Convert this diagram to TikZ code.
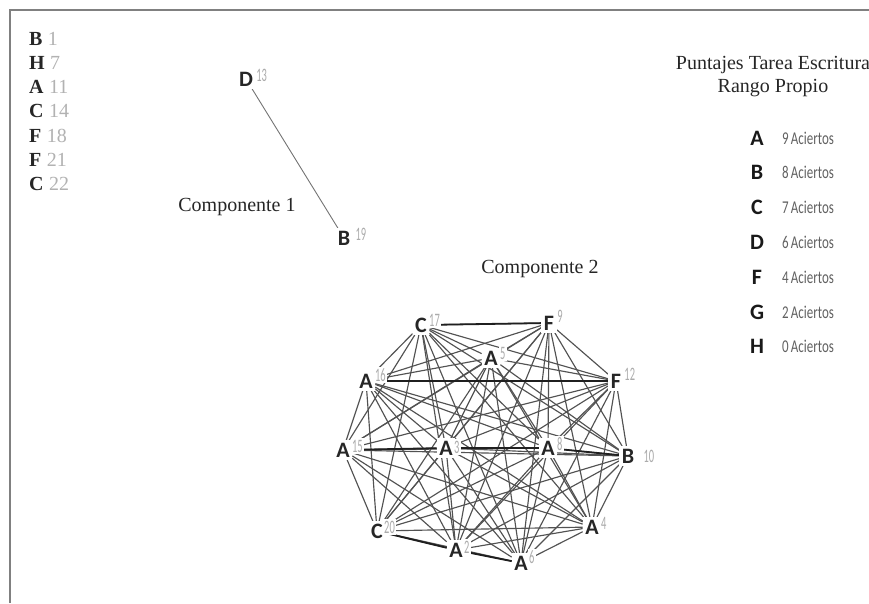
\documentclass[tikz,border=0pt]{standalone}
\usepackage{fontspec}
\setmainfont{Liberation Serif}
\newfontfamily\carl{Carlito}
\usetikzlibrary{backgrounds}
\newcommand\nmb[1]{\scalebox{0.55}[1]{#1}}
\begin{document}
\begin{tikzpicture}[x=1pt,y=1pt,
  vtx/.style={font=\carl\bfseries\fontsize{22}{22}\selectfont, text=black!85, fill=white, inner sep=2.5pt},
  num/.style={font=\carl\fontsize{19}{19}\selectfont, text=black!33, fill=white, inner sep=1.5pt, anchor=west},
  edge/.style={draw=black!68, line width=1.15pt},
  strong/.style={draw=black!88, line width=1.8pt},
  lst/.style={font=\fontsize{20}{20}\selectfont\bfseries, text=black!85, anchor=base west, inner sep=0pt},
  lnum/.style={font=\fontsize{20}{20}\selectfont, text=black!30, anchor=base west, inner sep=0pt},
  ttl/.style={font=\fontsize{20}{20}\selectfont, text=black!85},
  leg/.style={font=\carl\bfseries\fontsize{22}{22}\selectfont, text=black!90},
  legt/.style={font=\carl\fontsize{18}{18}\selectfont, text=black!62, anchor=west, inner sep=0pt},
  frame/.style={draw=black!50, line width=2.5pt}
]
\useasboundingbox (0,0) rectangle (869,-603);
\draw[frame] (10,-603) -- (10,-10) -- (869,-10);

% isolated nodes
\foreach \l/\n [count=\i from 0] in {B/1,H/7,A/11,C/14,F/18,F/21,C/22}{
  \node[lst] (iso\i) at (29,{-45-24.3*\i}) {\l};
  \node[lnum] (isonum\i) at ([xshift=5pt]iso\i.base east) {\n};
}

% component 1
\node[vtx] (n13) at (246,-79) {D};
\node[num] (l13) at ([xshift=-1pt,yshift=4pt]n13.east) {\nmb{13}};
\node[vtx] (n19) at (344,-238) {B};
\node[num] (l19) at ([xshift=1pt,yshift=4pt]n19.east) {\nmb{19}};
\node[ttl] (comp1) at (237,-207) {Componente 1};

% component 2
\node[ttl] (comp2) at (540,-269) {Componente 2};
\node[vtx] (n17) at (421,-325) {C};
\node[vtx] (n9)  at (549,-323) {F};
\node[vtx] (n5)  at (491,-358) {A};
\node[vtx] (n16) at (366,-381) {A};
\node[vtx] (n12) at (616,-381) {F};
\node[vtx] (n15) at (343,-450) {A};
\node[vtx] (n3)  at (446,-448) {A};
\node[vtx] (n8)  at (548,-448) {A};
\node[vtx] (n10) at (628,-456) {B};
\node[vtx] (n20) at (377,-531) {C};
\node[vtx] (n4)  at (592,-527) {A};
\node[vtx] (n2)  at (456,-550) {A};
\node[vtx] (n6)  at (521,-563) {A};
\foreach \n/\dx/\dy in {17/-2/5,9/-1/7,5/-2/5,16/-2/6,12/-1/7,15/-2/4,3/-3/1,8/-2/4,10/5/0,20/-3/4,4/-2/4,2/-3/3,6/-3/6}{
  \node[num] (l\n) at ([xshift=\dx pt,yshift=\dy pt]n\n.east) {\nmb{\n}};
}

\begin{pgfonlayer}{background}
  \draw[draw=black!55, line width=0.9pt] (n13) -- (n19);
  \foreach \a [count=\i] in {n17,n9,n5,n16,n12,n15,n3,n8,n10,n20,n4,n2,n6}{
    \foreach \b [count=\j] in {n17,n9,n5,n16,n12,n15,n3,n8,n10,n20,n4,n2,n6}{
      \ifnum\j>\i \draw[edge] (\a) -- (\b); \fi
    }
  }
  \draw[strong] (n17) -- (n9);
  \draw[strong] (n15) -- (n3);
  \draw[strong] (n3) -- (n8);
  \draw[strong] (n8) -- (n10);
  \draw[strong] (n20) -- (n2);
  \draw[strong] (n2) -- (n6);
  \draw[strong] (n16) -- (n12);
\end{pgfonlayer}

% legend
\node[ttl] (lt1) at (773,-65) {Puntajes Tarea Escritura};
\node[ttl] (lt2) at (773,-88) {Rango Propio};
\foreach \l/\t [count=\i from 0] in {A/9,B/8,C/7,D/6,F/4,G/2,H/0}{
  \node[leg] (lg\i) at (757,{-138-34.8*\i}) {\l};
  \node[legt] (lgt\i) at (782,{-138-34.8*\i}) {\scalebox{0.72}[1]{\t\,Aciertos}};
}
\end{tikzpicture}
\end{document}
